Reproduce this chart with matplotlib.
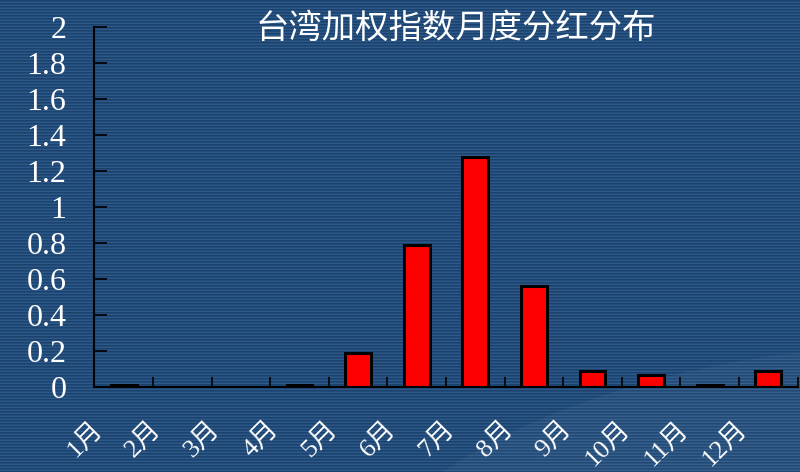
import numpy as np
import matplotlib
matplotlib.use("Agg")
import matplotlib.pyplot as plt
import matplotlib.transforms as mtransforms
from matplotlib.patches import Ellipse

months = ["1月", "2月", "3月", "4月", "5月", "6月", "7月", "8月", "9月", "10月", "11月", "12月"]
dividend = [0.012, 0.0, 0.0, 0.012, 0.19, 0.79, 1.28, 0.56, 0.09, 0.065, 0.012, 0.09]
yticks = [0, 0.2, 0.4, 0.6, 0.8, 1, 1.2, 1.4, 1.6, 1.8, 2]
ytick_labels = ["0", "0.2", "0.4", "0.6", "0.8", "1", "1.2", "1.4", "1.6", "1.8", "2"]

serif_cjk = ["Liberation Serif", "Noto Sans CJK SC"]

fig = plt.figure(figsize=(8, 4.72), dpi=100)

# striped blue backdrop
bg = fig.add_axes([0, 0, 1, 1], zorder=-10)
rows = 472
shades = np.array([[0.106, 0.255, 0.431], [0.137, 0.298, 0.482], [0.180, 0.350, 0.540]])
stripe = shades[np.arange(rows) % 3]
img = np.repeat(stripe[:, None, :], 800, axis=1)
bg.imshow(img, aspect="auto", extent=[0, 1, 0, 1], interpolation="nearest")
bg.add_patch(Ellipse((1.05, -0.25), 1.3, 1.0, angle=20, facecolor="white", alpha=0.04, edgecolor="none"))
bg.set_xlim(0, 1)
bg.set_ylim(0, 1)
bg.axis("off")

ax = fig.add_axes([0.118, 0.180, 0.879, 0.763])
ax.patch.set_alpha(0)
x = np.arange(1, len(months) + 1)
ax.bar(x, dividend, width=0.44, color="#ff0000", edgecolor="black", linewidth=2.2)

ax.set_xlim(0.5, 12.5)
ax.set_ylim(0, 2)
for side in ("top", "right"):
    ax.spines[side].set_visible(False)
for side in ("left", "bottom"):
    ax.spines[side].set_color("black")
    ax.spines[side].set_linewidth(1.5)

ax.set_yticks(yticks)
ax.set_yticklabels(ytick_labels, family=serif_cjk, fontsize=23, color="white")
ax.tick_params(axis="y", direction="in", length=9, width=1.2, color="black", pad=20)

# labels at month centres, tick marks on the boundaries
ax.set_xticks(x)
ax.set_xticklabels(months, family=serif_cjk, fontsize=19, color="white", rotation=45, ha="right")
ax.tick_params(axis="x", which="major", length=0, pad=22)
ax.set_xticks(np.arange(1.5, 13, 1), minor=True)
ax.tick_params(axis="x", which="minor", direction="in", length=7, width=1.2, color="black")

shift = mtransforms.ScaledTranslation(-16 / 100, 0, fig.dpi_scale_trans)
for lab in ax.get_xticklabels():
    lab.set_transform(lab.get_transform() + shift)

fig.text(0.57, 0.94, "台湾加权指数月度分红分布", family=["Noto Sans CJK SC", "DejaVu Sans"],
         fontsize=24, color="white", ha="center", va="center")

fig.savefig("out.png", dpi=100)
